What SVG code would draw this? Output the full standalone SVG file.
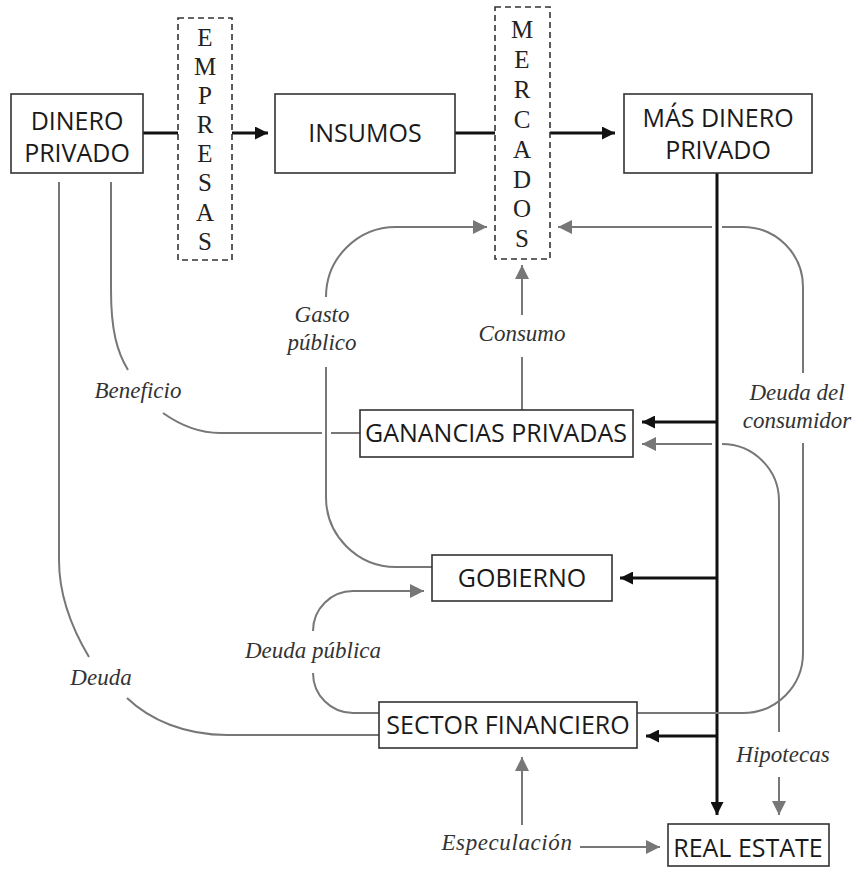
<svg xmlns="http://www.w3.org/2000/svg" width="858" height="869" viewBox="0 0 858 869">
<defs>
<style>
.box{fill:#fff;stroke:#333;stroke-width:1.6}
.dash{fill:none;stroke:#333;stroke-width:1.6;stroke-dasharray:6 4}
.bt{font-family:"Open Sans","Noto Sans",sans-serif;font-size:25px;fill:#1a1a1a;text-anchor:middle}
.vt{font-family:"Liberation Serif","Times New Roman",serif;font-size:25px;fill:#222;text-anchor:middle}
.lb{font-family:"Liberation Serif","Times New Roman",serif;font-style:italic;font-size:23px;fill:#333;text-anchor:middle}
.k{fill:none;stroke:#111;stroke-width:3}
.g{fill:none;stroke:#777;stroke-width:2}
</style>
<marker id="ak" viewBox="0 0 12 12" refX="12" refY="6" markerWidth="13" markerHeight="13" markerUnits="userSpaceOnUse" orient="auto">
<path d="M0,0 L12,6 L0,12 z" fill="#111"/>
</marker>
<marker id="ag" viewBox="0 0 12 12" refX="12" refY="6" markerWidth="14" markerHeight="14" markerUnits="userSpaceOnUse" orient="auto">
<path d="M0,0 L12,6 L0,12 z" fill="#777"/>
</marker>
</defs>
<rect width="858" height="869" fill="#fff"/>

<g id="connectors">
<path class="k" d="M143 133 H178"/>
<path class="k" d="M232 133 H268" marker-end="url(#ak)"/>
<path class="k" d="M455 133 H495"/>
<path class="k" d="M550 133 H615" marker-end="url(#ak)"/>
<path class="k" d="M717 173 V815" marker-end="url(#ak)"/>
<path class="k" d="M717 422 H642" marker-end="url(#ak)"/>
<path class="k" d="M717 578 H620" marker-end="url(#ak)"/>
<path class="k" d="M717 736 H646" marker-end="url(#ak)"/>
<path class="g" d="M111 182 V290 C111 330 117 352 128 370"/>
<path class="g" d="M360 433 H331"/>
<path class="g" d="M322 433 H220 C198 433 180 425 163 413"/>
<path class="g" d="M59 182 V560 C59 600 74 632 89 657"/>
<path class="g" d="M379 735 H227 C185 735 150 720 127 698"/>
<path class="g" d="M432 567 H396 A70 70 0 0 1 326 497 V367"/>
<path class="g" d="M326 297 A70 70 0 0 1 396 227 H487" marker-end="url(#ag)"/>
<path class="g" d="M522 410 V357"/>
<path class="g" d="M522 315 V265" marker-end="url(#ag)"/>
<path class="g" d="M379 713 H353 A40 40 0 0 1 313 673"/>
<path class="g" d="M313 631 A40 40 0 0 1 353 591 H424" marker-end="url(#ag)"/>
<path class="g" d="M637 713 H743 A60 60 0 0 0 803 653 V443"/>
<path class="g" d="M803 373 V287 A60 60 0 0 0 743 227 H722"/>
<path class="g" d="M712 227 H558" marker-end="url(#ag)"/>
<path class="g" d="M712 444 H642" marker-end="url(#ag)"/>
<path class="g" d="M722 444 A57 57 0 0 1 779 501 V732"/>
<path class="g" d="M779 777 V815" marker-end="url(#ag)"/>
<path class="g" d="M580 847 H660" marker-end="url(#ag)"/>
<path class="g" d="M522 825 V757" marker-end="url(#ag)"/>
</g>

<g id="dinero-privado">
<rect class="box" x="11" y="94" width="132" height="79"/>
<text class="bt" x="77" y="130">DINERO</text>
<text class="bt" x="77" y="162">PRIVADO</text>
</g>
<g id="empresas">
<rect class="dash" x="178" y="18" width="54" height="242"/>
<text class="vt" x="205" y="46">E</text>
<text class="vt" x="205" y="75">M</text>
<text class="vt" x="205" y="104">P</text>
<text class="vt" x="205" y="133">R</text>
<text class="vt" x="205" y="162">E</text>
<text class="vt" x="205" y="191">S</text>
<text class="vt" x="205" y="221">A</text>
<text class="vt" x="205" y="250">S</text>
</g>
<g id="insumos">
<rect class="box" x="275" y="94" width="180" height="79"/>
<text class="bt" x="365" y="142">INSUMOS</text>
</g>
<g id="mercados">
<rect class="dash" x="495" y="7" width="55" height="252"/>
<text class="vt" x="522" y="38">M</text>
<text class="vt" x="522" y="68">E</text>
<text class="vt" x="522" y="98">R</text>
<text class="vt" x="522" y="128">C</text>
<text class="vt" x="522" y="158">A</text>
<text class="vt" x="522" y="188">D</text>
<text class="vt" x="522" y="217">O</text>
<text class="vt" x="522" y="247">S</text>
</g>
<g id="mas-dinero-privado">
<rect class="box" x="624" y="94" width="188" height="79"/>
<text class="bt" x="718" y="127">MÁS DINERO</text>
<text class="bt" x="718" y="159">PRIVADO</text>
</g>
<g id="ganancias-privadas">
<rect class="box" x="360" y="410" width="273" height="47"/>
<text class="bt" x="496" y="442">GANANCIAS PRIVADAS</text>
</g>
<g id="gobierno">
<rect class="box" x="432" y="555" width="180" height="46"/>
<text class="bt" x="522" y="587">GOBIERNO</text>
</g>
<g id="sector-financiero">
<rect class="box" x="379" y="702" width="258" height="46"/>
<text class="bt" x="508" y="734">SECTOR FINANCIERO</text>
</g>
<g id="real-estate">
<rect class="box" x="668" y="824" width="161" height="42"/>
<text class="bt" x="748" y="857">REAL ESTATE</text>
</g>

<g id="labels">
<text class="lb" x="322" y="322">Gasto</text>
<text class="lb" x="322" y="350">público</text>
<text class="lb" x="522" y="341">Consumo</text>
<text class="lb" x="138" y="398">Beneficio</text>
<text class="lb" x="797" y="400">Deuda del</text>
<text class="lb" x="797" y="428">consumidor</text>
<text class="lb" x="313" y="658">Deuda pública</text>
<text class="lb" x="101" y="685">Deuda</text>
<text class="lb" x="783" y="762">Hipotecas</text>
<text class="lb" x="507" y="850" letter-spacing="0.6">Especulación</text>
</g>
</svg>
